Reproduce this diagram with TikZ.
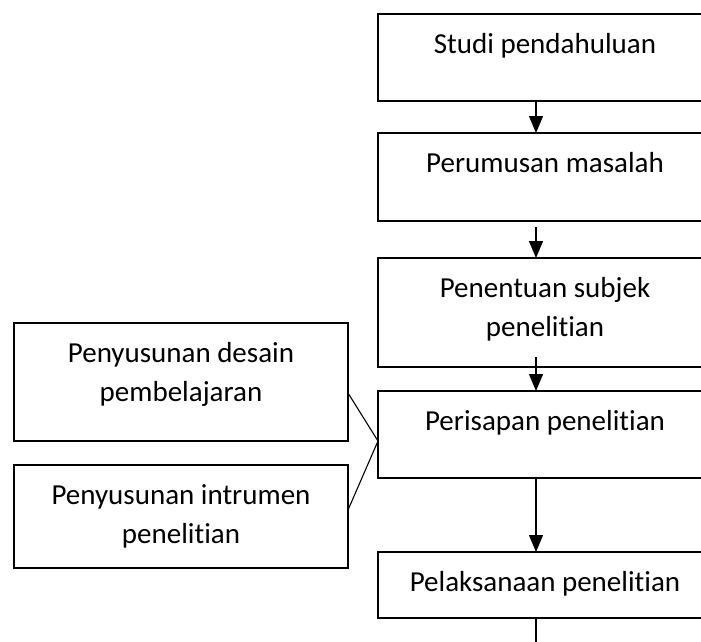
\documentclass[tikz,border=0pt]{standalone}
\usepackage{fontspec}
\setmainfont{Carlito}[Ligatures={NoCommon,NoContextual}]
\usetikzlibrary{arrows.meta,calc}
\newcommand\boxtext[3]{\parbox[t][#1][t]{#2}{\centering\rule{0pt}{39.5pt}#3\par}}
\tikzset{
  flowbox/.style={draw=black, line width=1.3pt, rectangle, inner sep=0pt, outer sep=0pt, anchor=north west,
    font=\fontsize{29}{39}\selectfont},
  flowarrow/.style={line width=1.3pt, -{Triangle[length=17pt,width=14pt]}},
  joinline/.style={line width=1.1pt}
}
\begin{document}
\begin{tikzpicture}[x=1pt,y=-1pt]
\useasboundingbox (0,0) rectangle (701,642);
\clip (0,0) rectangle (701,642);
% main column
\node[flowbox] (b1) at (378,14)  {\boxtext{87pt}{334pt}{Studi pendahuluan}};
\node[flowbox] (b2) at (378,133) {\boxtext{88pt}{334pt}{Perumusan masalah}};
\node[flowbox] (b3) at (378,258) {\boxtext{109pt}{334pt}{Penentuan subjek\\penelitian}};
\node[flowbox] (b4) at (378,391) {\boxtext{87pt}{334pt}{Perisapan penelitian}};
\node[flowbox] (b5) at (378,552) {\boxtext{66pt}{334pt}{Pelaksanaan penelitian}};
% left boxes
\node[flowbox] (l1) at (14,323) {\boxtext{118pt}{334pt}{Penyusunan desain\\pembelajaran}};
\node[flowbox] (l2) at (14,465) {\boxtext{103pt}{334pt}{Penyusunan intrumen\\penelitian}};
% arrow column
\coordinate (ax) at (536,0);
\coordinate (endpt) at (536,660);
\draw[flowarrow] (b1.south -| ax) -- (b2.north -| ax);
\draw[flowarrow] ([yshift=-6pt]b2.south -| ax) -- (b3.north -| ax);
\draw[flowarrow] ([yshift=10pt]b3.south -| ax) -- (b4.north -| ax);
\draw[flowarrow] (b4.south -| ax) -- (b5.north -| ax);
\draw[flowarrow] (b5.south -| ax) -- (endpt);
% joining lines
\coordinate (meet) at ([yshift=-6.5pt]b4.west);
\draw[joinline] ([yshift=-11pt]l1.east) -- (meet);
\draw[joinline] ([yshift=6.5pt]l2.east) -- (meet);
\end{tikzpicture}
\end{document}
